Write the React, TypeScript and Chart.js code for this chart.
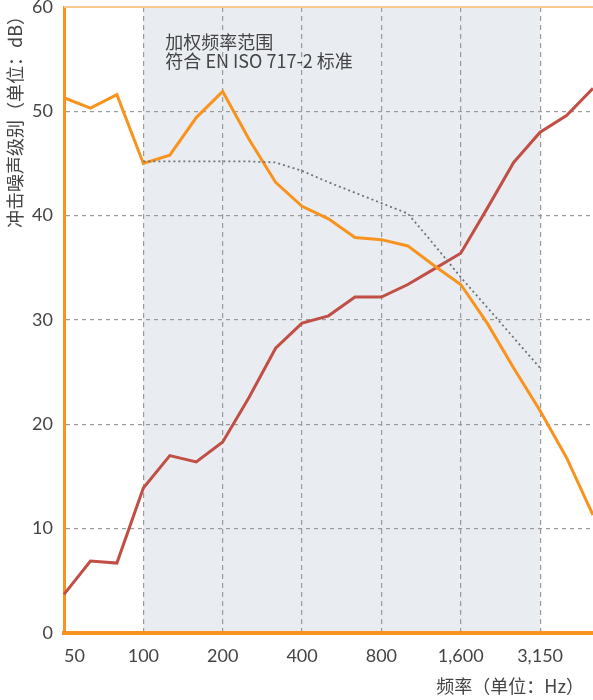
import React, { useEffect, useRef } from "react";
import { Chart, registerables } from "chart.js";

Chart.register(...registerables);

const freqLabels = ["50", "63", "80", "100", "125", "160", "200", "250", "315", "400", "500", "630", "800", "1000", "1250", "1600", "2000", "2500", "3150", "4000", "5000"];
const tickLabels = ["50", "", "", "100", "", "", "200", "", "", "400", "", "", "800", "", "", "1,600", "", "", "3,150", "", ""];
const orangeSeries = [51.3, 50.3, 51.6, 45.0, 45.8, 49.4, 51.9, 47.3, 43.2, 40.9, 39.7, 37.9, 37.7, 37.1, 35.2, 33.4, 29.7, 25.4, 21.3, 16.8, 11.3];
const redSeries = [3.7, 6.9, 6.7, 13.9, 17.0, 16.4, 18.3, 22.6, 27.3, 29.7, 30.4, 32.2, 32.2, 33.4, 34.9, 36.4, 40.7, 45.1, 48.0, 49.6, 52.2];
const referenceSeries = [null, null, null, 45.2, 45.2, 45.2, 45.2, 45.2, 45.1, 44.3, 43.2, 42.2, 41.2, 40.2, 37.2, 34.1, 31.2, 28.3, 25.4, null, null];
const yTicks = [0, 10, 20, 30, 40, 50, 60];
const rangeStart = "100";
const rangeEnd = "3150";
const noteLines = ["加权频率范围", "符合 EN ISO 717-2 标准"];
const yTitle = "冲击噪声级别（单位：dB）";
const xTitle = "频率（单位：Hz）";

const FONT = "Lato, 'Noto Sans CJK SC', sans-serif";
const CJK = "'Noto Sans CJK SC', Lato, sans-serif";
const ORANGE = "#f7931e";
const RED = "#c14f45";
const GRID = "#9a9a9a";

const decorPlugin = {
  id: "decor",
  beforeDraw(chart: any) {
    const { ctx, chartArea, scales } = chart;
    const x0 = scales.x.getPixelForValue(freqLabels.indexOf(rangeStart));
    const x1 = scales.x.getPixelForValue(freqLabels.indexOf(rangeEnd));
    ctx.save();
    ctx.fillStyle = "#e9edf1";
    ctx.fillRect(x0, chartArea.top, x1 - x0, chartArea.bottom - chartArea.top);
    ctx.restore();
  },
  afterDraw(chart: any) {
    const { ctx, chartArea, scales } = chart;
    ctx.save();
    ctx.strokeStyle = "#fbc98c";
    ctx.lineWidth = 2;
    ctx.beginPath();
    ctx.moveTo(chartArea.left, scales.y.getPixelForValue(60));
    ctx.lineTo(chartArea.right, scales.y.getPixelForValue(60));
    ctx.stroke();
    const xn = scales.x.getPixelForValue(freqLabels.indexOf(rangeStart)) + 22;
    ctx.fillStyle = "#444";
    ctx.font = `18px ${CJK}`;
    ctx.textAlign = "left";
    ctx.textBaseline = "middle";
    ctx.fillText(noteLines[0], xn, 42);
    ctx.fillText(noteLines[1], xn, 61);
    ctx.font = `18px ${CJK}`;
    ctx.textAlign = "right";
    ctx.fillText(xTitle, 584, 686);
    ctx.translate(15, chartArea.top);
    ctx.rotate(-Math.PI / 2);
    ctx.textAlign = "right";
    ctx.fillText(yTitle, 0, 0);
    ctx.restore();
  },
};

export default function App() {
  const ref = useRef<HTMLCanvasElement>(null);
  useEffect(() => {
    const chart = new Chart(ref.current as HTMLCanvasElement, {
      type: "line",
      data: {
        labels: freqLabels,
        datasets: [
          {
            data: referenceSeries,
            borderColor: "#6f747a",
            borderWidth: 1.8,
            borderDash: [2, 3],
            pointRadius: 0,
            spanGaps: false,
          },
          {
            data: orangeSeries,
            borderColor: ORANGE,
            borderWidth: 3,
            pointRadius: 0,
          },
          {
            data: redSeries,
            borderColor: RED,
            borderWidth: 3,
            pointRadius: 0,
          },
        ],
      },
      options: {
        animation: false,
        responsive: false,
        layout: { padding: { top: 7, right: 0, left: 0, bottom: 0 } },
        plugins: { legend: { display: false }, tooltip: { enabled: false } },
        scales: {
          x: {
            type: "category",
            offset: false,
            afterFit: (s: any) => {
              s.height = 67;
              s.paddingLeft = 0;
              s.paddingRight = 0;
            },
            grid: {
              drawTicks: false,
              color: (c: any) => ([3, 6, 9, 12, 15, 18].includes(c.index) ? GRID : "transparent"),
              lineWidth: 1.2,
            },
            border: { color: ORANGE, width: 4, dash: [5, 4] as any },
            ticks: {
              autoSkip: false,
              maxRotation: 0,
              align: "inner",
              padding: 12,
              color: "#444",
              font: { family: FONT, size: 18 },
              callback: (_v: any, i: number) => tickLabels[i],
            },
          },
          y: {
            min: 0,
            max: 60,
            afterFit: (s: any) => {
              s.width = 64;
              s.paddingTop = 0;
              s.paddingBottom = 0;
            },
            afterBuildTicks: (s: any) => {
              s.ticks = yTicks.map((v) => ({ value: v }));
            },
            grid: {
              drawTicks: false,
              color: (c: any) => (c.tick && c.tick.value > 0 && c.tick.value < 60 ? GRID : "transparent"),
              lineWidth: 1.2,
            },
            border: { color: ORANGE, width: 3, dash: [4, 4] as any },
            ticks: {
              padding: 11,
              color: "#444",
              font: { family: FONT, size: 18 },
            },
          },
        },
      },
      plugins: [decorPlugin],
    } as any);
    return () => chart.destroy();
  }, []);
  return (
    <div style={{ position: "fixed", left: 0, top: 0, width: 593, height: 700, background: "#fff" }}>
      <canvas ref={ref} width={593} height={700} />
    </div>
  );
}
